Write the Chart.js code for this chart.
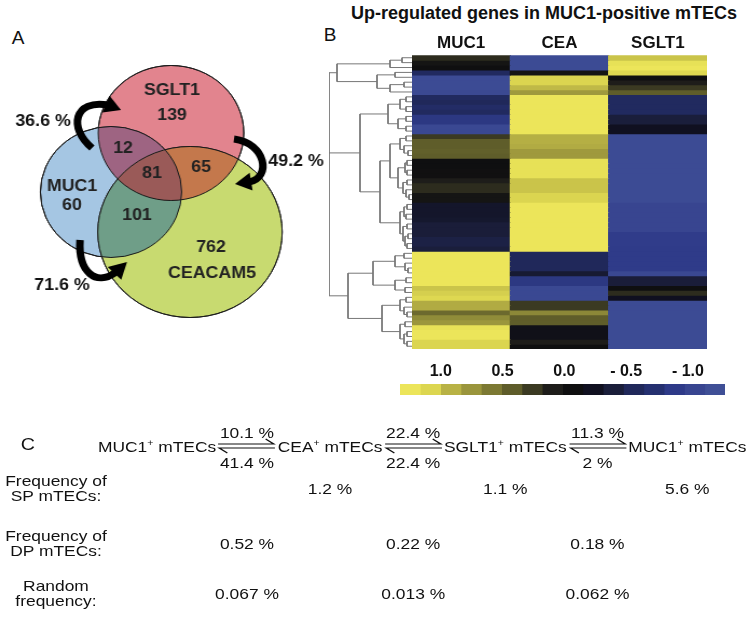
<!DOCTYPE html>
<html>
<head>
<meta charset="utf-8">
<script src="https://cdn.jsdelivr.net/npm/chart.js@4.4.1/dist/chart.umd.min.js"></script>
<style>
  html, body { margin: 0; padding: 0; background: #fff; }
  body { width: 746px; height: 628px; position: relative; overflow: hidden;
         font-family: "Liberation Sans", Arial, sans-serif; color: #111; }
  canvas { position: absolute; }
  .t { position: absolute; white-space: nowrap; transform: translate(-50%, -50%); line-height: 1; }
  .c { text-align: center; line-height: 15px; }
  .chain { position: absolute; display: flex; align-items: center; white-space: nowrap; transform: translateY(-50%); }
  .chain svg { margin: 0 1px; display: block; }
  sup { font-size: 9px; vertical-align: 6px; line-height: 0; }
</style>
</head>
<body>
<div class="t" style="left:18px;top:37px;font-size:19px">A</div>
<div class="t" style="left:330px;top:34px;font-size:19px">B</div>
<div class="t" style="left:544px;top:13px;font-size:18px;font-weight:bold">Up-regulated genes in MUC1-positive mTECs</div>
<canvas id="venn" width="306" height="335" style="left:0;top:0;width:330px;height:335px"></canvas>
<canvas id="dendro" width="90" height="304" style="left:324px;top:50px"></canvas>
<canvas id="heatmap" width="295" height="329" style="left:412px;top:20px"></canvas>
<canvas id="colorbar" width="325" height="37" style="left:400px;top:358px"></canvas>
<div id="panelC"></div>
<script>
// ---- A: Venn counts
const vennSets = ['SGLT1', 'MUC1', 'CEACAM5'];
const vennOnly = [139, 60, 762];
const overlapSglt1Muc1 = 12;
const overlapSglt1Cea = 65;
const overlapMuc1Cea = 101;
const overlapAll = 81;
const transferPct = ['36.6 %', '49.2 %', '71.6 %'];

// ---- B: heatmap (rows top to bottom, log ratio)
const heatColumns = ['MUC1', 'CEA', 'SGLT1'];
const muc1Values = [0.18, 0.0, -0.07, -0.6, -1.15, -1.15, -1.15, -1.12, -0.6, -0.56,
  -0.65, -0.6, -0.85, -0.85, -1.1, -1.1, 0.26, 0.43, 0.43, 0.45,
  0.43, -0.07, -0.07, -0.05, -0.05, 0.1, 0.18, 0.18, 0.0, 0.0,
  -0.3, -0.3, -0.3, -0.32, -0.39, -0.39, -0.39, -0.45, -0.45, -0.4,
  1.25, 1.25, 1.25, 1.25, 1.25, 1.25, 1.25, 1.0, 1.05, 1.1,
  0.88, 0.88, 0.5, 0.7, 0.76, 1.2, 1.25, 1.25, 1.08, 1.08];
const ceaValues = [-1.15, -1.15, -1.15, 0.0, 1.08, 1.08, 0.95, 0.78, 1.25, 1.25,
  1.25, 1.25, 1.25, 1.25, 1.25, 1.25, 0.9, 0.9, 0.88, 0.78,
  0.78, 1.2, 1.2, 1.2, 1.2, 1.0, 1.0, 1.0, 1.08, 1.08,
  1.25, 1.25, 1.25, 1.25, 1.25, 1.25, 1.25, 1.25, 1.25, 1.25,
  -0.56, -0.56, -0.56, -0.56, -0.35, -0.85, -0.85, -1.1, -1.1, -1.1,
  0.26, 0.26, 0.68, 0.43, 0.43, -0.15, -0.15, -0.15, 0.1, -0.07];
const sglt1Values = [1.0, 1.2, 1.25, 1.1, -0.07, 0.1, 0.26, 0.43, -0.6, -0.6,
  -0.6, -0.6, -0.4, -0.4, -0.23, -0.23, -1.15, -1.15, -1.15, -1.15,
  -1.15, -1.15, -1.15, -1.15, -1.15, -1.15, -1.15, -1.15, -1.15, -1.15,
  -1.05, -1.05, -1.05, -1.05, -1.05, -1.05, -0.92, -0.92, -0.92, -0.9,
  -0.9, -0.9, -0.9, -0.9, -1.1, -0.39, -0.39, -0.07, 0.18, -0.23,
  -1.15, -1.15, -1.15, -1.15, -1.15, -1.15, -1.15, -1.15, -1.15, -1.15];
// [merge height, ...children]; numbers are row indices
const dendroTree = [83,
  [75, [22, [10, 0, 1], 2], [35, [17, 3, 4], [22, [8, 5, 6], 7]]],
  [52,
    [24, [12, [6, 8, 9], [6, 10, 11]], [14, [6, 12, 13], [6, 14, 15]]],
    [32,
      [22, [12, [6, 16, 17], [8, 18, [4, 19, 20]]], [14, [7, [5, 21, 22], [5, 23, 24]], [9, [5, 25, 26], [6, 27, [3, 28, 29]]]]],
      [12, [8, [5, 30, 31], [6, 32, 33]], [9, [5, 34, 35], [7, [4, 36, 37], [5, 38, 39]]]]]],
  [64,
    [39, [17, [8, 40, 41], [7, 42, [4, 43, 44]]], [17, [6, 45, 46], [7, 47, 48]]],
    [30, [12, [6, 49, 50], [8, 51, [5, 52, 53]]], [12, [7, 54, 55], [8, [5, 56, 57], [5, 58, 59]]]]]];
const colorbarTicks = [1.0, 0.5, 0.0, -0.5, -1.0];

// ---- C: transitions and frequencies
const chainCells = ['MUC1', 'CEA', 'SGLT1', 'MUC1'];
const forwardPct = ['10.1 %', '22.4 %', '11.3 %'];
const reversePct = ['41.4 %', '22.4 %', '2 %'];
const spFreq = ['1.2 %', '1.1 %', '5.6 %'];
const dpFreq = ['0.52 %', '0.22 %', '0.18 %'];
const randomFreq = ['0.067 %', '0.013 %', '0.062 %'];

// ---- styles / layout
const heatPalette = ['#ece55a', '#dcd650', '#b8b245', '#9a953c', '#7c7933', '#5e5c2a', '#3b3a22', '#1e1d1a',
  '#0f0f10', '#101020', '#1a1e3a', '#20285a', '#253070', '#2e3a88', '#384590', '#3f4f96'];
const paletteTop = 1.33, paletteBottom = -1.30;
const vennFill = ['#e2848e', '#a5c6e3', '#c8da70'];
const vennLayout = { cx: [171, 111, 190], cy: [133, 192, 232], r: [67.5, 65.5, 85.5] };
const pairColors = { s_m: '#9e6482', s_c: '#c4784c', m_c: '#6f9e88', all: '#9a5a58' };

Chart.defaults.font.family = '"Liberation Sans", Arial, sans-serif';
Chart.defaults.color = '#111';
Chart.defaults.animation = false;
Chart.defaults.plugins.legend.display = false;
Chart.defaults.plugins.tooltip.enabled = false;

function hexRgb(h) {
  const n = parseInt(h.slice(1), 16);
  return [n >> 16, (n >> 8) & 255, n & 255];
}
function valueColor(v) {
  const step = (paletteTop - paletteBottom) / heatPalette.length;
  let f = (paletteTop - v) / step - 0.5;
  f = Math.max(0, Math.min(heatPalette.length - 1, f));
  const i = Math.floor(f), t = f - i;
  const a = hexRgb(heatPalette[i]);
  const b = hexRgb(heatPalette[Math.min(i + 1, heatPalette.length - 1)]);
  const c = a.map((x, k) => Math.round(x + (b[k] - x) * t));
  return `rgb(${c[0]},${c[1]},${c[2]})`;
}

// ---------- Venn diagram
const vennPainter = {
  id: 'vennPainter',
  afterDatasetsDraw(chart) {
    const ctx = chart.ctx;
    const xs = chart.scales.x, ys = chart.scales.y;
    const X = v => xs.getPixelForValue(v), Y = v => ys.getPixelForValue(v);
    const circ = chart.getDatasetMeta(0).data.map(p => ({ x: p.x, y: p.y, r: p.options.radius }));
    const path = c => { ctx.beginPath(); ctx.arc(c.x, c.y, c.r, 0, Math.PI * 2); };
    const fillIn = (clipIdx, fillIdx, color) => {
      ctx.save();
      clipIdx.forEach(i => { path(circ[i]); ctx.clip(); });
      path(circ[fillIdx]); ctx.fillStyle = color; ctx.fill();
      ctx.restore();
    };
    fillIn([0], 1, pairColors.s_m);
    fillIn([0], 2, pairColors.s_c);
    fillIn([1], 2, pairColors.m_c);
    fillIn([0, 1], 2, pairColors.all);
    ctx.save();
    ctx.lineWidth = 1; ctx.strokeStyle = '#1a1a1a';
    circ.forEach(c => { path(c); ctx.stroke(); });

    // curved transfer arrows
    const arrows = [
      { p: [[92, 148], [68, 128], [74, 99], [108, 105]], tip: [121, 110] },
      { p: [[234, 139], [266, 143], [272, 178], [249, 182]], tip: [235, 184] },
      { p: [[80, 240], [78, 272], [96, 287], [116, 272]], tip: [127, 262] }
    ];
    ctx.fillStyle = '#000'; ctx.strokeStyle = '#000';
    arrows.forEach(a => {
      const q = a.p.map(([x, y]) => [X(x), Y(y)]);
      ctx.beginPath();
      ctx.moveTo(q[0][0], q[0][1]);
      ctx.bezierCurveTo(q[1][0], q[1][1], q[2][0], q[2][1], q[3][0], q[3][1]);
      ctx.lineWidth = 7; ctx.lineCap = 'butt'; ctx.stroke();
      const tx = X(a.tip[0]), ty = Y(a.tip[1]);
      const dx = tx - q[3][0], dy = ty - q[3][1], len = Math.hypot(dx, dy);
      const nx = -dy / len * 9, ny = dx / len * 9;
      const bx = q[3][0] - dx / len * 2, by = q[3][1] - dy / len * 2;
      ctx.beginPath();
      ctx.moveTo(tx, ty); ctx.lineTo(bx + nx, by + ny); ctx.lineTo(bx - nx, by - ny);
      ctx.closePath(); ctx.fill();
    });

    // labels
    ctx.fillStyle = '#222';
    ctx.textAlign = 'center'; ctx.textBaseline = 'middle';
    ctx.font = 'bold 16.5px "Liberation Sans", Arial, sans-serif';
    const labels = [
      [vennSets[0], 172, 90], [String(vennOnly[0]), 172, 115],
      [vennSets[1], 72, 186], [String(vennOnly[1]), 72, 205],
      [String(vennOnly[2]), 211, 247], [vennSets[2], 212, 273],
      [String(overlapSglt1Muc1), 123, 148], [String(overlapAll), 152, 173],
      [String(overlapSglt1Cea), 201, 167], [String(overlapMuc1Cea), 137, 215]
    ];
    labels.forEach(([s, x, y]) => ctx.fillText(s, X(x), Y(y)));
    ctx.fillStyle = '#111';
    [[transferPct[0], 43, 121], [transferPct[1], 296, 161], [transferPct[2], 62, 285]]
      .forEach(([s, x, y]) => ctx.fillText(s, X(x), Y(y)));
    ctx.restore();
  }
};

new Chart(document.getElementById('venn'), {
  type: 'bubble',
  data: {
    datasets: [{
      data: vennSets.map((s, i) => ({ x: vennLayout.cx[i], y: vennLayout.cy[i], r: vennLayout.r[i] })),
      backgroundColor: vennFill,
      borderColor: '#1a1a1a',
      borderWidth: 1
    }]
  },
  options: {
    responsive: false,
    layout: { padding: 0, autoPadding: false },
    scales: {
      x: { type: 'linear', min: 0, max: 330, display: false },
      y: { type: 'linear', min: 0, max: 335, reverse: true, display: false }
    }
  },
  plugins: [vennPainter]
});

// ---------- dendrogram
function dendroSegments(node, out) {
  if (typeof node === 'number') return { x: 0, y: node + 0.5 };
  const [h, ...kids] = node;
  const pos = kids.map(k => dendroSegments(k, out));
  pos.forEach(p => out.push({ x: p.x, y: p.y }, { x: h, y: p.y }, { x: h, y: null }));
  const yv = pos.map(p => p.y);
  out.push({ x: h, y: Math.min(...yv) }, { x: h, y: Math.max(...yv) }, { x: h, y: null });
  return { x: h, y: (yv[0] + yv[yv.length - 1]) / 2 };
}
const dendroPoints = [];
dendroSegments(dendroTree, dendroPoints);

new Chart(document.getElementById('dendro'), {
  type: 'scatter',
  data: {
    datasets: [{
      data: dendroPoints,
      showLine: true,
      spanGaps: false,
      borderColor: '#777',
      borderWidth: 1,
      pointRadius: 0
    }]
  },
  options: {
    responsive: false,
    layout: { padding: { left: 5, right: 2, top: 5.3, bottom: 5.3 }, autoPadding: false },
    scales: {
      x: { type: 'linear', min: 0, max: 83, reverse: true, display: false },
      y: { type: 'linear', min: 0, max: muc1Values.length, reverse: true, display: false }
    }
  }
});

// ---------- heatmap (one stacked bar dataset per gene row)
const heatSeries = [muc1Values, ceaValues, sglt1Values];
new Chart(document.getElementById('heatmap'), {
  type: 'bar',
  data: {
    labels: heatColumns,
    datasets: muc1Values.map((_, r) => ({
      data: heatColumns.map(() => 1),
      backgroundColor: heatSeries.map(s => valueColor(s[r])),
      borderWidth: 0,
      inflateAmount: 0.6,
      categoryPercentage: 1,
      barPercentage: 1
    }))
  },
  options: {
    responsive: false,
    layout: { padding: 0 },
    scales: {
      x: {
        stacked: true, position: 'top',
        grid: { display: false, drawTicks: false }, border: { display: false },
        ticks: { color: '#111', font: { size: 17, weight: 'bold' }, padding: 2 },
        afterFit: s => { s.height = 35.3; }
      },
      y: { stacked: true, display: false, min: 0, max: muc1Values.length, reverse: true }
    }
  }
});

// ---------- colour key
const keyStep = (paletteTop - paletteBottom) / heatPalette.length;
new Chart(document.getElementById('colorbar'), {
  type: 'bar',
  data: {
    labels: ['key'],
    datasets: heatPalette.map((c, i) => ({
      data: [[paletteTop - keyStep * (i + 1), paletteTop - keyStep * i]],
      backgroundColor: c,
      grouped: false,
      borderWidth: 0,
      inflateAmount: 0.4,
      categoryPercentage: 1,
      barPercentage: 1
    }))
  },
  options: {
    indexAxis: 'y',
    responsive: false,
    layout: { padding: 0 },
    scales: {
      x: {
        type: 'linear', position: 'top', min: paletteBottom, max: paletteTop, reverse: true,
        afterBuildTicks: s => { s.ticks = colorbarTicks.map(v => ({ value: v })); },
        grid: { drawOnChartArea: false, drawTicks: false },
        border: { display: false },
        ticks: {
          autoSkip: false, maxRotation: 0, padding: 3, color: '#111',
          font: { size: 16, weight: 'bold' },
          callback: v => v < 0 ? '- ' + Math.abs(v).toFixed(1) : Math.abs(v).toFixed(1)
        },
        afterFit: s => { s.height = 26; }
      },
      y: { display: false }
    }
  }
});

// ---------- C: text panel (type is wide in the figure, so the panel is stretched)
const stretch = 1.16;
const panel = document.getElementById('panelC');
panel.style.cssText = `position:absolute;left:0;top:0;width:${746 / stretch}px;height:628px;` +
  `transform:scaleX(${stretch});transform-origin:0 0;font-size:15px`;
const ix = x => x / stretch;
function put(html, x, y, extra, size) {
  const d = document.createElement('div');
  d.className = 't' + (extra ? ' ' + extra : '');
  d.style.left = ix(x) + 'px';
  d.style.top = y + 'px';
  if (size) d.style.fontSize = size + 'px';
  d.innerHTML = html;
  panel.appendChild(d);
  return d;
}
const rowY = { top: 432, chain: 446, bottom: 462, sp: 488, dp: 543, rnd: 593 };
const eqArrow = '<svg width="51" height="20" viewBox="0 0 51 20"><g stroke="#111" stroke-width="1.2" fill="none">' +
  '<path d="M1 8 H49 L42 3"/><path d="M50 12 H2 L9 17"/></g></svg>';

const chain = document.createElement('div');
chain.className = 'chain';
chain.style.left = ix(98) + 'px';
chain.style.top = rowY.chain + 'px';
const cellEls = [], arrowEls = [];
chainCells.forEach((c, i) => {
  const s = document.createElement('span');
  s.innerHTML = c + '<sup>+</sup> mTECs';
  chain.appendChild(s); cellEls.push(s);
  if (i < chainCells.length - 1) {
    const a = document.createElement('span');
    a.innerHTML = eqArrow;
    chain.appendChild(a); arrowEls.push(a);
  }
});
panel.appendChild(chain);
const centerX = el => { const r = el.getBoundingClientRect(); return (r.left + r.right) / 2; };

put('C', 28, rowY.chain - 2, '', 17);
arrowEls.forEach((a, i) => {
  const x = centerX(a);
  put(forwardPct[i], x, rowY.top);
  put(reversePct[i], x, rowY.bottom);
  put(dpFreq[i], x, rowY.dp);
  put(randomFreq[i], x, rowY.rnd);
  put(spFreq[i], centerX(cellEls[i + 1]), rowY.sp);
});
put('Frequency of<br>SP mTECs:', 56, rowY.sp, 'c');
put('Frequency of<br>DP mTECs:', 56, rowY.dp, 'c');
put('Random<br>frequency:', 56, rowY.rnd, 'c');
</script>
</body>
</html>
